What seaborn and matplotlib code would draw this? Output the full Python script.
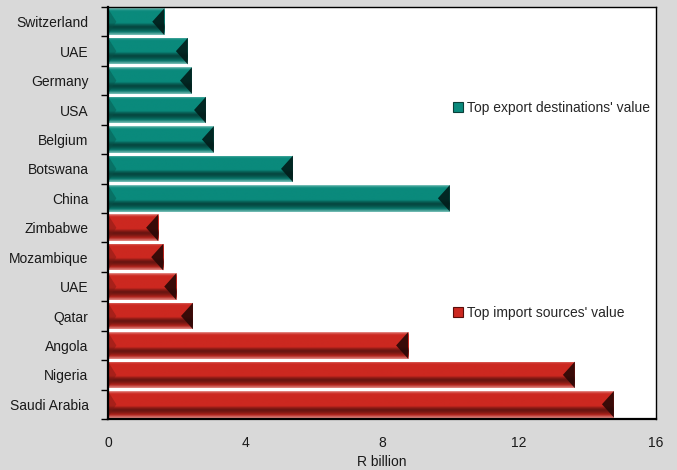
import numpy as np
import pandas as pd
import matplotlib
matplotlib.use('Agg')
import matplotlib.pyplot as plt
import seaborn as sns
from matplotlib.patches import Patch, Polygon
from matplotlib.colors import to_rgb

# data (R billion), top to bottom
export_countries = ['Switzerland', 'UAE', 'Germany', 'USA', 'Belgium', 'Botswana', 'China']
export_values = [1.64, 2.33, 2.45, 2.86, 3.09, 5.40, 9.98]
import_countries = ['Zimbabwe', 'Mozambique', 'UAE', 'Qatar', 'Angola', 'Nigeria', 'Saudi Arabia']
import_values = [1.46, 1.61, 1.99, 2.48, 8.76, 13.63, 14.77]
export_label = "Top export destinations' value"
import_label = "Top import sources' value"
x_ticks = [0, 4, 8, 12, 16]

teal = '#0a8a7c'
red = '#cc2820'

sns.set_theme(style='white')
plt.rcParams['font.family'] = ['Liberation Sans Narrow', 'Liberation Sans', 'DejaVu Sans']
FS = 10

df = pd.DataFrame({
    'key': [f'E:{c}' for c in export_countries] + [f'I:{c}' for c in import_countries],
    'country': export_countries + import_countries,
    'value': export_values + import_values,
    'flow': [export_label] * len(export_countries) + [import_label] * len(import_countries),
})

fig = plt.figure(figsize=(6.77, 4.70), dpi=100, facecolor='#d9d9d9')
ax = fig.add_axes([108 / 677, 51 / 470, 548 / 677, 412 / 470])
ax.set_facecolor('white')

sns.barplot(data=df, x='value', y='key', hue='flow', dodge=False, width=0.9,
            palette={export_label: teal, import_label: red}, legend=False,
            saturation=1, linewidth=0, ax=ax)

ax.set_xlim(0, 16)
ax.set_ylim(len(df) - 0.5, -0.5)

# px per data unit in x for bevel depth
px_per_x = fig.get_size_inches()[0] * fig.dpi * ax.get_position().width / 16.0


def shade(rgb, f):
    return np.clip(np.array(rgb) * f, 0, 1)


def mix(rgb, other, t):
    return np.array(rgb) * (1 - t) + np.array(other) * t


for p in list(ax.patches):
    base = to_rgb(p.get_facecolor())
    x0, y0 = p.get_x(), p.get_y()
    w, h = p.get_width(), p.get_height()
    if w <= 0:
        continue
    # vertical bevel profile: light rim, face, dark band, lighter bottom rim
    stops = [(0.0, mix(base, (1, 1, 1), 0.5)), (0.06, mix(base, (1, 1, 1), 0.1)),
             (0.12, base), (0.55, base), (0.62, shade(base, 0.7)),
             (0.7, shade(base, 0.5)), (0.78, shade(base, 0.6)), (0.88, shade(base, 0.85)),
             (1.0, mix(base, (1, 1, 1), 0.45))]
    t = np.linspace(0, 1, 64)
    grad = np.zeros((64, 1, 3))
    for ch in range(3):
        grad[:, 0, ch] = np.interp(t, [s[0] for s in stops], [s[1][ch] for s in stops])
    im = ax.imshow(grad, extent=(x0, x0 + w, y0 + h, y0), origin='upper',
                   aspect='auto', interpolation='bilinear', zorder=p.get_zorder() + 0.1)
    im.set_clip_path(p)
    # end faces of the bevel
    h_px = 412 / len(df) * h
    dx = min(h_px * 0.45 / px_per_x, w * 0.45)
    right = Polygon([(x0 + w, y0), (x0 + w - dx, y0 + h / 2), (x0 + w, y0 + h)],
                    closed=True, facecolor=shade(base, 0.2), edgecolor='none',
                    alpha=0.9, zorder=p.get_zorder() + 0.2)
    left = Polygon([(x0, y0), (x0 + dx * 0.7, y0 + h / 2), (x0, y0 + h)],
                   closed=True, facecolor=shade(base, 0.6), edgecolor='none',
                   alpha=0.45, zorder=p.get_zorder() + 0.2)
    ax.add_patch(right)
    ax.add_patch(left)

ax.set_xlim(0, 16)
ax.set_ylim(len(df) - 0.5, -0.5)

# axes styling
for s in ax.spines.values():
    s.set_visible(True)
    s.set_color('black')
    s.set_linewidth(1.0)
ax.spines['left'].set_linewidth(1.6)
ax.spines['bottom'].set_linewidth(1.6)

ax.set_xticks(x_ticks)
ax.set_xticklabels([str(v) for v in x_ticks], fontsize=FS, color='#1a1a1a')
ax.set_yticks(range(len(df)))
ax.set_yticklabels(df['country'], fontsize=FS, color='#1a1a1a')
ax.tick_params(axis='y', which='major', length=0, pad=14)
ax.tick_params(axis='x', which='major', direction='out', length=4, width=1, color='black', pad=8)
ax.set_yticks(np.arange(-0.5, len(df), 1.0), minor=True)
ax.tick_params(axis='y', which='minor', direction='out', length=5, width=1, color='black', left=True)
ax.set_xlabel('R billion', fontsize=FS, color='#1a1a1a', labelpad=4)
ax.set_ylabel('')
ax.grid(False)

# two separate legend entries placed inside the plot
h_exp = [Patch(facecolor=teal, edgecolor='#0a3f38', linewidth=0.8)]
h_imp = [Patch(facecolor=red, edgecolor='#5a0d0a', linewidth=0.8)]
leg1 = ax.legend(h_exp, [export_label], loc='center left', bbox_to_anchor=(0.62, 0.755),
                 frameon=False, fontsize=FS, handlelength=0.7, handleheight=0.7,
                 handletextpad=0.3, borderaxespad=0)
ax.add_artist(leg1)
ax.legend(h_imp, [import_label], loc='center left', bbox_to_anchor=(0.62, 0.257),
          frameon=False, fontsize=FS, handlelength=0.7, handleheight=0.7,
          handletextpad=0.3, borderaxespad=0)

fig.savefig('out.png', dpi=100, facecolor=fig.get_facecolor())
